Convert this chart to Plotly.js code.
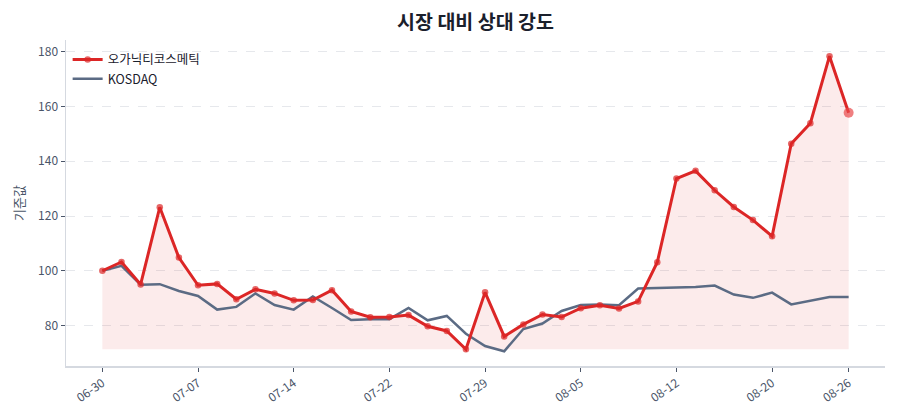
<!DOCTYPE html>
<html>
<head>
<meta charset="utf-8">
<script src="https://cdn.plot.ly/plotly-3.0.1.min.js"></script>
<style>html,body{margin:0;padding:0;background:#fff;}#chart{width:900px;height:420px;}</style>
</head>
<body>
<div id="chart"></div>
<script>
const dates = ["06-30","07-01","07-02","07-03","07-04","07-07","07-08","07-09","07-10","07-11",
  "07-14","07-15","07-16","07-17","07-18","07-22","07-23","07-24","07-25","07-28",
  "07-29","07-30","07-31","08-01","08-04","08-05","08-06","08-07","08-08","08-11",
  "08-12","08-13","08-14","08-18","08-19","08-20","08-21","08-22","08-25","08-26"];
const stockValues = [100.0,103.2,95.0,123.2,104.8,94.7,95.2,89.6,93.2,91.7,
  89.2,89.3,92.9,85.1,83.0,83.1,83.8,79.7,78.0,71.3,
  92.1,76.0,80.4,84.0,83.1,86.3,87.4,86.2,88.8,103.1,
  133.7,136.5,129.4,123.3,118.5,112.6,146.4,153.9,178.4,157.7];
const kosdaqValues = [100.0,101.8,94.9,95.1,92.6,90.8,85.8,86.8,91.7,87.5,
  85.8,90.6,86.4,82.0,82.3,82.3,86.4,81.9,83.5,77.0,
  72.5,70.6,78.7,80.7,85.3,87.5,87.7,87.4,93.5,93.7,
  93.8,94.1,94.6,91.3,90.1,92.0,87.7,89.1,90.4,90.4];
const tickLabels = ["06-30","07-07","07-14","07-22","07-29","08-05","08-12","08-20","08-26"];
const stockName = "오가닉티코스메틱";
const indexName = "KOSDAQ";

const red = "#dc2626";
const slate = "#5b6b84";
const baseVal = Math.min(...stockValues);
const idx = dates.map((d, i) => i);
const tickIdx = tickLabels.map(t => dates.indexOf(t));
const n = stockValues.length;

const traces = [
  {x: idx, y: stockValues.map(() => baseVal), mode: "lines", line: {width: 0, color: "rgba(0,0,0,0)"},
   showlegend: false, hoverinfo: "skip"},
  {x: idx, y: stockValues, mode: "lines", line: {width: 0, color: "rgba(0,0,0,0)"},
   fill: "tonexty", fillcolor: "rgba(220,38,38,0.09)", showlegend: false, hoverinfo: "skip"},
  {x: idx, y: kosdaqValues, mode: "lines", name: indexName, line: {color: slate, width: 2.5}},
  {x: idx, y: stockValues, mode: "lines+markers", name: stockName,
   line: {color: red, width: 3},
   marker: {size: stockValues.map((v, i) => i === n - 1 ? 10 : 6.5),
            line: {width: 0},
            color: stockValues.map((v, i) => i === n - 1 ? "#e8484a" : red)}}
];

const layout = {
  width: 900, height: 420,
  margin: {l: 66, r: 15, t: 40, b: 54},
  paper_bgcolor: "#fff", plot_bgcolor: "#fff",
  font: {family: "'Noto Sans CJK KR', 'Noto Sans', sans-serif", color: "#4a5568", size: 12},
  title: {text: "<b>시장 대비 상대 강도</b>", xref: "paper", x: 0.5, xanchor: "center", y: 0.948, yanchor: "middle",
          font: {size: 19.5, color: "#1a202c"}},
  showlegend: true,
  legend: {x: 0.002, y: 0.985, xanchor: "left", yanchor: "top", bgcolor: "rgba(255,255,255,0)",
           font: {size: 12.5, color: "#1a202c"}, traceorder: "reversed", tracegroupgap: 0, itemwidth: 30},
  xaxis: {range: [-1.9, 40.9], tickmode: "array", tickvals: tickIdx, ticktext: tickLabels,
          tickangle: -35, showgrid: false, zeroline: false, showline: true, linecolor: "#d5d9e0", linewidth: 1.5,
          ticks: "outside", ticklen: 4, tickcolor: "#4a5568", tickfont: {size: 12, color: "#4a5568"}},
  yaxis: {range: [65.2, 184.3], tickvals: [80, 100, 120, 140, 160, 180], showgrid: true, gridcolor: "#e6e8ec",
          griddash: "dash", gridwidth: 1, zeroline: false, showline: true, linecolor: "#d5d9e0", linewidth: 1.5,
          ticks: "outside", ticklen: 4, tickcolor: "#4a5568", tickfont: {size: 12, color: "#4a5568"},
          title: {text: "기준값", font: {size: 13, color: "#4a5568"}, standoff: 10}}
};

Plotly.newPlot("chart", traces, layout, {displayModeBar: false, staticPlot: true});
</script>
</body>
</html>
